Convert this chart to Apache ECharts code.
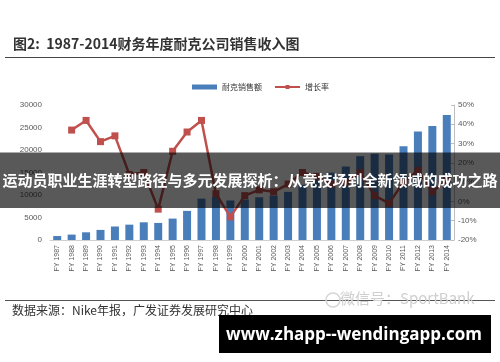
<!DOCTYPE html>
<html>
<head>
<meta charset="utf-8">
<script src="https://cdn.jsdelivr.net/npm/echarts@6/dist/echarts.min.js"></script>
<style>
html,body{margin:0;padding:0;background:#fff;}
#c{width:500px;height:362px;}
</style>
</head>
<body>
<div id="c"></div>
<script>
const categories = ['FY 1987','FY 1988','FY 1989','FY 1990','FY 1991','FY 1992','FY 1993','FY 1994','FY 1995','FY 1996','FY 1997','FY 1998','FY 1999','FY 2000','FY 2001','FY 2002','FY 2003','FY 2004','FY 2005','FY 2006','FY 2007','FY 2008','FY 2009','FY 2010','FY 2011','FY 2012','FY 2013','FY 2014'];
const salesValues = [880,1200,1710,2240,3000,3410,3930,3790,4760,6470,9190,9550,8780,9000,9490,9890,10700,12250,13740,14950,16330,18630,19180,19010,20860,24130,25310,27800];
const growthValues = [null,37,42,31,34,14,15,-4,26,36,42,4,-8,3,6,5,9,15,13,9,10,15,3,-1,10,16,5,11];
const leftTicks = [0,5000,10000,15000,20000,25000,30000];
const rightTicks = [-20,-10,0,10,20,30,40,50];
const seriesNames = ['耐克销售额','增长率'];
const titleText = '图2:  1987-2014财务年度耐克公司销售收入图';
const sourceText = '数据来源：Nike年报，广发证券发展研究中心';
const bannerText = '运动员职业生涯转型路径与多元发展探析：从竞技场到全新领域的成功之路';
const watermarkText = '微信号：SportBank';
const urlText = 'www.zhapp--wendingapp.com';

const FONT = '"Noto Sans CJK SC","Noto Sans",sans-serif';
const LAT = '"Liberation Sans",Arial,sans-serif';
const chart = echarts.init(document.getElementById('c'), null, {renderer:'canvas'});
chart.setOption({
  animation:false,
  backgroundColor:'#fff',
  textStyle:{fontFamily:FONT},
  grid:{left:50,right:46,top:105,bottom:122,containLabel:false},
  legend:{
    data:[{name:seriesNames[0],icon:'rect'},{name:seriesNames[1]}],
    top:78,left:187,itemWidth:25,itemHeight:5,itemGap:12,
    textStyle:{fontSize:8,color:'#333',fontFamily:FONT}
  },
  xAxis:{
    type:'category',data:categories,
    axisLine:{show:true,lineStyle:{color:'#d0d0d0',width:1}},
    axisTick:{show:false},
    axisLabel:{rotate:90,fontSize:7,color:'#595959',margin:5,interval:0,fontFamily:LAT}
  },
  yAxis:[
    {type:'value',min:leftTicks[0],max:leftTicks[leftTicks.length-1],interval:5000,
     splitLine:{show:false},axisLine:{show:false},axisTick:{show:false},
     axisLabel:{formatter:function(v){return String(v);},fontSize:8,color:'#595959',margin:8,fontFamily:LAT}},
    {type:'value',position:'right',min:rightTicks[0],max:rightTicks[rightTicks.length-1],interval:10,
     splitLine:{show:false},
     axisLine:{show:true,lineStyle:{color:'#bfbfbf'}},
     axisTick:{show:true,inside:true,length:3,lineStyle:{color:'#bfbfbf'}},
     axisLabel:{formatter:'{value}%',fontSize:8,color:'#595959',margin:4,fontFamily:LAT}}
  ],
  series:[
    {name:seriesNames[0],type:'bar',data:salesValues,barWidth:8,
     itemStyle:{color:'#4a7ebb'},yAxisIndex:0,z:2},
    {name:seriesNames[1],type:'line',data:growthValues,yAxisIndex:1,
     symbol:'rect',symbolSize:7,connectNulls:false,
     lineStyle:{color:'#c0504d',width:2.5},itemStyle:{color:'#c0504d'},z:3}
  ],
  graphic:[
    {type:'text',left:13,top:37,z:10,style:{text:titleText,font:'bold 14px '+FONT,fill:'#333'}},
    {type:'line',z:10,shape:{x1:5,y1:57.5,x2:495,y2:57.5},style:{stroke:'#444',lineWidth:1}},
    {type:'line',z:10,shape:{x1:5,y1:300.5,x2:495,y2:300.5},style:{stroke:'#555',lineWidth:1}},
    {type:'text',left:12,top:304,z:10,style:{text:sourceText,font:'12px '+FONT,fill:'#333'}},
    {type:'text',left:340,top:291,z:11,style:{text:watermarkText,font:'15px '+FONT,fill:'#cfcfcf'}},
    {type:'circle',z:11,shape:{cx:333,cy:300,r:7},style:{fill:'none',stroke:'#d5d5d5',lineWidth:1.5}},
    {type:'rect',z:20,shape:{x:0,y:152.5,width:500,height:55.5},style:{fill:'rgba(0,0,0,0.65)'}},
    {type:'text',z:21,x:250,y:180,style:{text:bannerText,font:'bold 15px '+FONT,fill:'#fff',align:'center',verticalAlign:'middle'}},
    {type:'rect',z:20,shape:{x:219,y:315,width:272,height:38},style:{fill:'#000'}},
    {type:'text',z:21,x:354,y:335,style:{text:urlText,font:'bold 17px "Open Sans",sans-serif',fill:'#fff',align:'center',verticalAlign:'middle'}}
  ]
});
</script>
</body>
</html>
